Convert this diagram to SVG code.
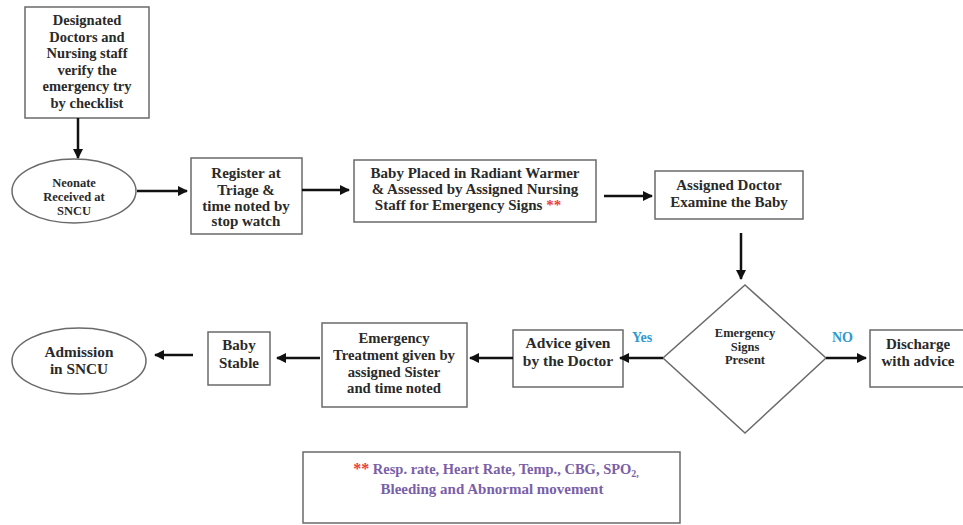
<svg xmlns="http://www.w3.org/2000/svg" width="963" height="525" viewBox="0 0 963 525">
<defs>
<marker id="ah" viewBox="0 0 10 10" refX="9" refY="5" markerWidth="4" markerHeight="4" orient="auto" markerUnits="strokeWidth">
<path d="M0,0 L10,5 L0,10 z" fill="#111"/>
</marker>
<style>
.box{fill:#fff;stroke:#6a6a6a;stroke-width:1.5}
.t{font-family:"Liberation Serif","Times New Roman",serif;font-weight:bold;fill:#2a2a2a;text-anchor:middle}
.c{stroke:#111;stroke-width:2.5;fill:none;marker-end:url(#ah)}
.lab{font-family:"Liberation Serif",serif;font-weight:bold;fill:#2e9ad0;font-size:14px}
.leg{font-family:"Liberation Serif",serif;font-weight:bold;fill:#7a5fa8;text-anchor:middle}
.star{fill:#e8403a}
</style>
</defs>
<rect width="963" height="525" fill="#fff"/>

<g id="verify">
<rect class="box" x="25" y="7" width="124" height="111"/>
<text class="t" font-size="14.5" x="87" y="25">Designated</text>
<text class="t" font-size="14.5" x="87" y="42">Doctors and</text>
<text class="t" font-size="14.5" x="87" y="58">Nursing staff</text>
<text class="t" font-size="14.5" x="87" y="75">verify the</text>
<text class="t" font-size="14.5" x="87" y="91">emergency try</text>
<text class="t" font-size="14.5" x="87" y="108">by checklist</text>
</g>

<g id="neonate">
<ellipse class="box" cx="74" cy="191" rx="62" ry="32"/>
<text class="t" font-size="12.5" x="74" y="187">Neonate</text>
<text class="t" font-size="12.5" x="74" y="201">Received  at</text>
<text class="t" font-size="12.5" x="74" y="215">SNCU</text>
</g>

<g id="register">
<rect class="box" x="191" y="158" width="111" height="76"/>
<text class="t" font-size="15" x="246" y="178">Register at</text>
<text class="t" font-size="15" x="246" y="195">Triage  &amp;</text>
<text class="t" font-size="15" x="246" y="211">time noted by</text>
<text class="t" font-size="15" x="246" y="226">stop watch</text>
</g>

<g id="warmer">
<rect class="box" x="354" y="160" width="242" height="62"/>
<text class="t" font-size="15" x="475" y="178">Baby Placed in Radiant  Warmer</text>
<text class="t" font-size="15" x="475" y="194">&amp; Assessed by Assigned Nursing</text>
<text class="t" font-size="15" x="468" y="210">Staff  for Emergency Signs <tspan class="star">**</tspan></text>
</g>

<g id="doctor">
<rect class="box" x="655" y="171" width="148" height="48"/>
<text class="t" font-size="15" x="729" y="190">Assigned Doctor</text>
<text class="t" font-size="15" x="729" y="207">Examine the Baby</text>
</g>

<g id="decision">
<polygon class="box" points="745,285 826,358 745,433 663,358"/>
<text class="t" font-size="12.5" x="745" y="337">Emergency</text>
<text class="t" font-size="12.5" x="745" y="351">Signs</text>
<text class="t" font-size="12.5" x="745" y="364">Present</text>
</g>

<g id="discharge">
<rect class="box" x="870" y="330" width="95" height="57"/>
<text class="t" font-size="15" x="918" y="349">Discharge</text>
<text class="t" font-size="15" x="918" y="366">with advice</text>
</g>

<g id="advice">
<rect class="box" x="513" y="330" width="110" height="57"/>
<text class="t" font-size="15.5" x="568" y="348">Advice given</text>
<text class="t" font-size="15.5" x="568" y="366">by the Doctor</text>
</g>

<g id="treatment">
<rect class="box" x="322" y="323" width="145" height="84"/>
<text class="t" font-size="14.7" x="394" y="343">Emergency</text>
<text class="t" font-size="14.7" x="394" y="360">Treatment given by</text>
<text class="t" font-size="14.7" x="394" y="377">assigned Sister</text>
<text class="t" font-size="14.7" x="394" y="393">and time noted</text>
</g>

<g id="stable">
<rect class="box" x="208" y="332" width="62" height="53"/>
<text class="t" font-size="15" x="239" y="350">Baby</text>
<text class="t" font-size="15" x="239" y="368">Stable</text>
</g>

<g id="admission">
<ellipse class="box" cx="79" cy="361" rx="67" ry="33"/>
<text class="t" font-size="15.3" x="79" y="357">Admission</text>
<text class="t" font-size="15.3" x="79" y="374">in SNCU</text>
</g>

<g id="legend">
<rect class="box" x="303" y="452" width="377" height="71"/>
<text class="leg" font-size="14.5" x="496" y="474"><tspan class="star" font-size="16">**</tspan> Resp. rate, Heart Rate, Temp., CBG, SPO<tspan font-size="10" dy="3">2,</tspan></text>
<text class="leg" font-size="15" x="492" y="494">Bleeding and Abnormal movement</text>
</g>

<g id="connectors">
<line class="c" x1="78" y1="118" x2="78" y2="158"/>
<line class="c" x1="137" y1="191" x2="187" y2="191"/>
<line class="c" x1="302" y1="190" x2="349" y2="190"/>
<line class="c" x1="604" y1="196" x2="652" y2="196"/>
<line class="c" x1="741" y1="233" x2="741" y2="279"/>
<line class="c" x1="826" y1="358" x2="866" y2="358"/>
<line class="c" x1="663" y1="358" x2="620" y2="358"/>
<line class="c" x1="513" y1="358" x2="470" y2="358"/>
<line class="c" x1="320" y1="358" x2="277" y2="358"/>
<line class="c" x1="193" y1="355" x2="155" y2="355"/>
<text class="lab" x="632" y="342">Yes</text>
<text class="lab" x="832" y="342">NO</text>
</g>
</svg>
